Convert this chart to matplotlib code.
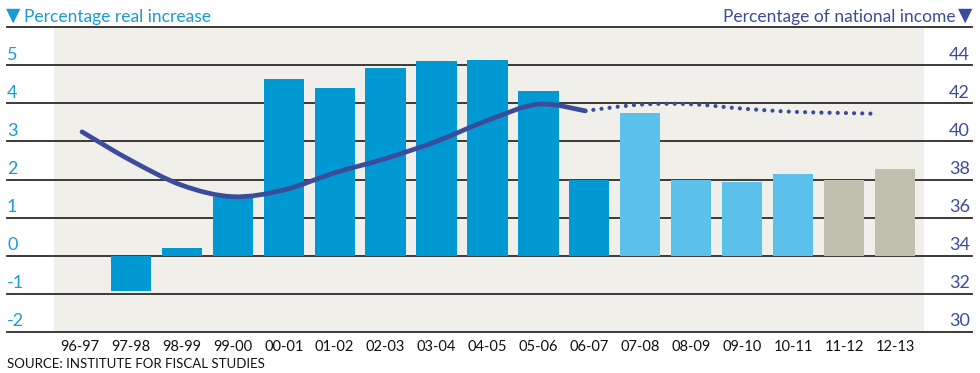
import matplotlib
matplotlib.use("Agg")
import matplotlib.pyplot as plt
from matplotlib.path import Path
from matplotlib.patches import PathPatch
import numpy as np

# ---- data ----
years = ["96-97", "97-98", "98-99", "99-00", "00-01", "01-02", "02-03", "03-04",
         "04-05", "05-06", "06-07", "07-08", "08-09", "09-10", "10-11", "11-12", "12-13"]
real_increase = [0, -0.92, 0.2, 1.55, 4.63, 4.4, 4.92, 5.1, 5.13, 4.32, 2.0,
                 3.74, 2.0, 1.94, 2.15, 2.0, 2.28]
bar_group = ["actual"] * 11 + ["plan"] * 4 + ["projection"] * 2

share_solid_x = [0.04, 1, 2, 3, 4, 5, 6, 7, 8, 9, 9.92]
share_solid = [40.5, 39.0, 37.7, 37.1, 37.45, 38.35, 39.1, 40.0, 41.1, 41.95, 41.6]
share_dotted_x = [9.92, 11, 12, 13, 14, 15, 15.62]
share_dotted = [41.6, 41.93, 41.95, 41.72, 41.55, 41.49, 41.45]

left_ticks = [-2, -1, 0, 1, 2, 3, 4, 5]
right_ticks = [30, 32, 34, 36, 38, 40, 42, 44]

# ---- style ----
C_BG = "#f0efea"
C_BAR = {"actual": "#0099d4", "plan": "#5bc0ea", "projection": "#c1bfb0"}
C_LEFT = "#1a9ad6"
C_RIGHT = "#3b4c9b"
C_GRID = "#2b2b2b"
FONT = ["Lato", "DejaVu Sans"]
plt.rcParams["font.family"] = FONT

W, H = 980, 373
fig = plt.figure(figsize=(W / 100, H / 100), dpi=100)
ax = fig.add_axes([54 / W, (H - 332) / H, 870 / W, 305 / H])
ax.set_facecolor(C_BG)
for s in ax.spines.values():
    s.set_visible(False)
ax.set_xlim(-0.51, 16.57)
ax.set_ylim(-2, 6)
ax.set_xticks([])
ax.set_yticks([])

# gridlines extending beyond the shaded plot area
xmin = (7 - 54) / 870
xmax = (972 - 54) / 870
for v in range(-2, 7):
    ax.axhline(v, xmin=xmin, xmax=xmax, color=C_GRID, lw=1.3, clip_on=False, zorder=1)

x = np.arange(len(years))
ax.bar(x, real_increase, width=0.79, color=[C_BAR[g] for g in bar_group], zorder=2)

# x tick labels
for xi, lab in zip(x, years):
    ax.text(xi, -2.2, lab, ha="center", va="top", fontsize=10.5, color="#111111")

# left & right tick labels
for v in left_ticks:
    ax.annotate(str(v), xy=(7 / W, v), xycoords=(fig.transFigure, ax.transData),
                xytext=(0, 4), textcoords="offset points", ha="left", va="baseline",
                fontsize=13, color=C_LEFT)
for v in right_ticks:
    lv = (v - 34) / 2
    ax.annotate(str(v), xy=(970 / W, lv), xycoords=(fig.transFigure, ax.transData),
                xytext=(0, 4), textcoords="offset points", ha="right", va="baseline",
                fontsize=13, color=C_RIGHT)

# secondary axis for line
ax2 = ax.twinx()
ax2.set_ylim(30, 46)
ax2.set_xlim(ax.get_xlim())
ax2.axis("off")


def smooth_path(xs, ys):
    P = np.column_stack([xs, ys]).astype(float)
    n = len(P)
    verts = [P[0]]
    codes = [Path.MOVETO]
    for i in range(n - 1):
        p0 = P[i - 1] if i > 0 else P[i]
        p1 = P[i]
        p2 = P[i + 1]
        p3 = P[i + 2] if i + 2 < n else P[i + 1]
        c1 = p1 + (p2 - p0) / 6.0
        c2 = p2 - (p3 - p1) / 6.0
        verts += [c1, c2, p2]
        codes += [Path.CURVE4] * 3
    return Path(verts, codes)


ax2.add_patch(PathPatch(smooth_path(share_solid_x, share_solid), fill=False,
                        edgecolor=C_RIGHT, lw=3.4, capstyle="round", zorder=4))
ax2.add_patch(PathPatch(smooth_path(share_dotted_x, share_dotted), fill=False,
                        edgecolor=C_RIGHT, lw=3.0, capstyle="round",
                        linestyle=(0, (0.01, 1.95)), zorder=4))

# headers
fig.text(6 / W, 1 - 21 / H, "\u25BC", fontsize=13.5, color=C_LEFT, ha="left",
         va="baseline", family=["DejaVu Sans"])
fig.text(24 / W, 1 - 22 / H, "Percentage real increase", fontsize=12.5, color=C_LEFT,
         ha="left", va="baseline")
fig.text(972 / W, 1 - 21 / H, "\u25BC", fontsize=13.5, color=C_RIGHT, ha="right",
         va="baseline", family=["DejaVu Sans"])
fig.text(956 / W, 1 - 22 / H, "Percentage of national income", fontsize=12.5,
         color=C_RIGHT, ha="right", va="baseline")

fig.text(7 / W, 1 - 368 / H, "SOURCE: INSTITUTE FOR FISCAL STUDIES", fontsize=9.5,
         color="#111111", ha="left", va="baseline")

fig.savefig("out.png", dpi=100, facecolor="white")
